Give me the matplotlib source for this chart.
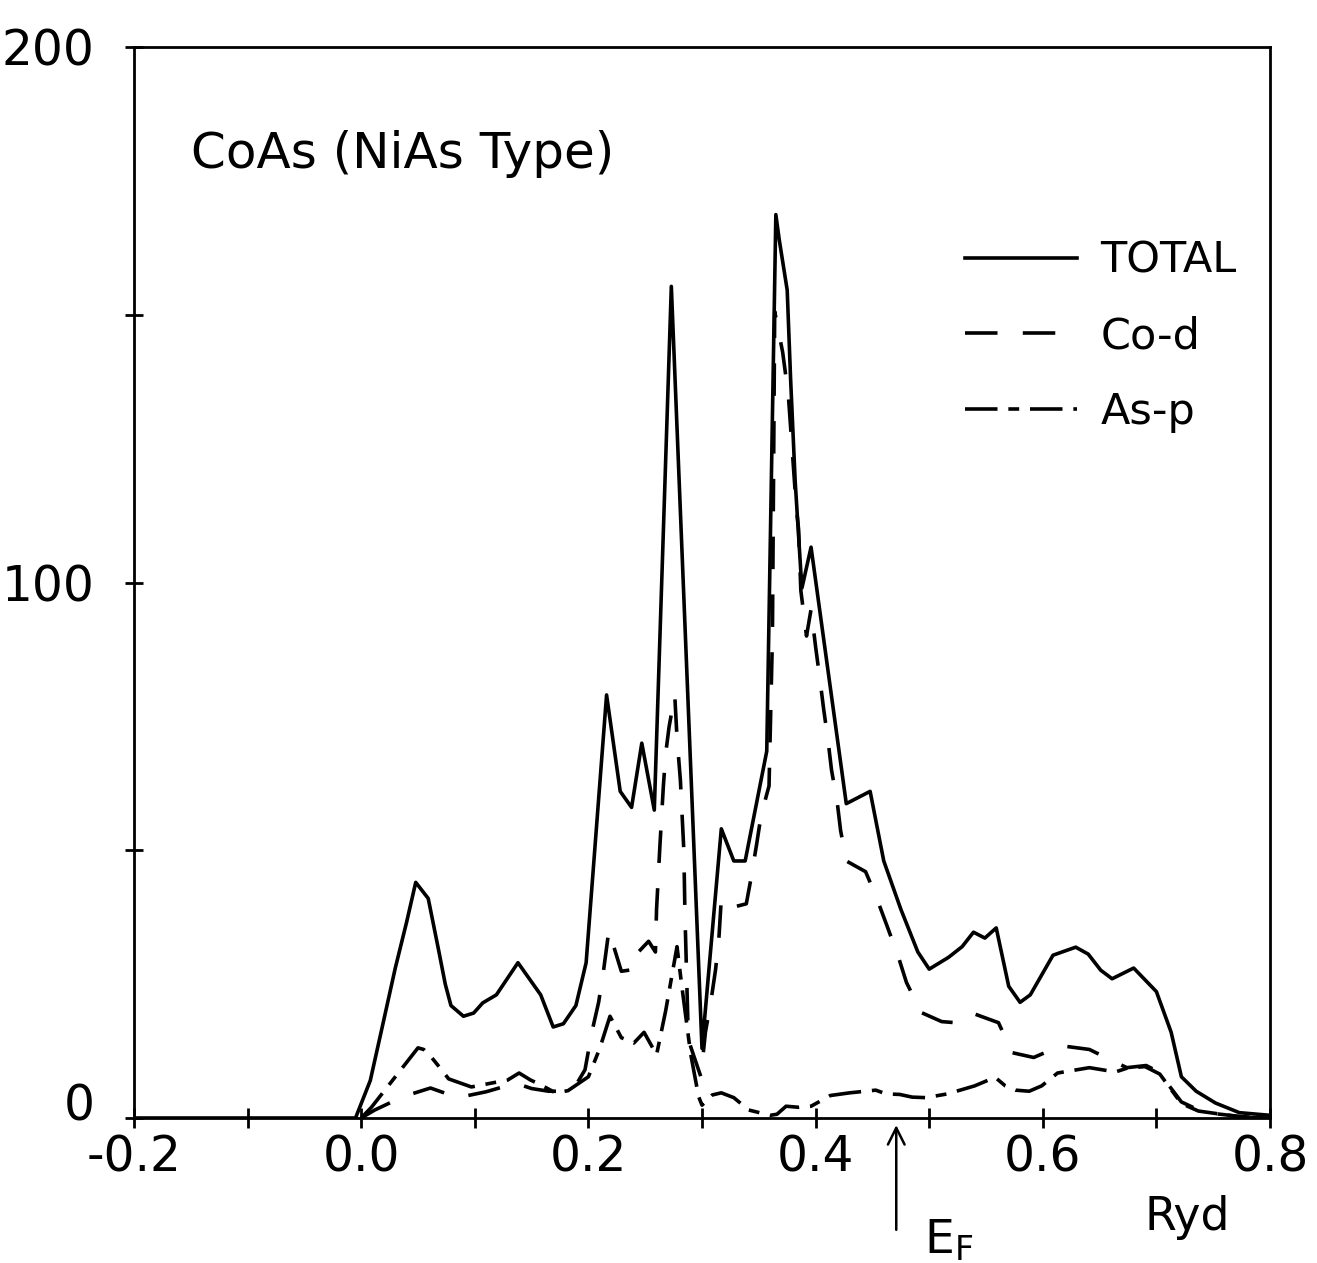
import matplotlib
matplotlib.use('Agg')
import matplotlib.pyplot as plt
import matplotlib.transforms as mtransforms
import numpy as np

# energy (Ryd) / DOS values
total_e = [-0.2, -0.005, 0.008, 0.018, 0.030, 0.040, 0.048, 0.059, 0.068, 0.074, 0.079,
           0.090, 0.099, 0.107, 0.119, 0.138, 0.158, 0.169, 0.178, 0.189, 0.198,
           0.216, 0.228, 0.238, 0.247, 0.258, 0.273, 0.300, 0.317, 0.328, 0.338,
           0.357, 0.365, 0.368, 0.375, 0.378, 0.382, 0.387, 0.388, 0.396, 0.427,
           0.448, 0.460, 0.475, 0.490, 0.500, 0.517, 0.529, 0.539, 0.549, 0.559,
           0.570, 0.580, 0.589, 0.609, 0.629, 0.640, 0.651, 0.661, 0.680, 0.700,
           0.713, 0.722, 0.735, 0.752, 0.773, 0.800]
total_dos = [0, 0, 7, 16.5, 28, 36.6, 44, 41, 31.5, 25, 21,
             19, 19.6, 21.5, 23, 29, 23, 17, 17.6, 21, 29,
             79, 61, 58, 70, 57.5, 155.3, 13, 54, 48, 48,
             68.5, 168.7, 164, 154.6, 138, 119, 102, 99, 106.6, 58.7,
             61, 48, 39, 31, 27.8, 30, 32, 34.7, 33.6, 35.5,
             24.6, 21.6, 23, 30.4, 31.9, 30.6, 27.6, 26, 28, 23.6,
             16, 7.7, 5, 2.8, 1, 0.5]

cod_e = [0.0, 0.012, 0.037, 0.061, 0.085, 0.110, 0.136, 0.150, 0.165, 0.180, 0.190,
         0.197, 0.203, 0.209, 0.213, 0.218, 0.229, 0.242, 0.244, 0.253, 0.259,
         0.260, 0.263, 0.266, 0.268, 0.271, 0.276, 0.278, 0.281, 0.284, 0.285,
         0.288, 0.299, 0.303, 0.308, 0.312, 0.315, 0.317, 0.328, 0.339, 0.343,
         0.348, 0.352, 0.359, 0.362, 0.364, 0.371, 0.376, 0.383, 0.385, 0.387,
         0.392, 0.396, 0.400, 0.404, 0.407, 0.411, 0.414, 0.419, 0.422, 0.427,
         0.444, 0.453, 0.463, 0.473, 0.480, 0.493, 0.511, 0.523, 0.539, 0.561,
         0.573, 0.592, 0.616, 0.641, 0.665, 0.674, 0.691, 0.702, 0.722, 0.737,
         0.752, 0.773, 0.795]
cod_dos = [0, 1.5, 4, 5.6, 3.8, 4.9, 6.5, 5.5, 5, 5, 6.5,
           9, 16, 21.6, 27, 35, 27.4, 27.8, 31, 33, 31,
           39, 51, 62, 68, 73, 79, 71, 63, 50, 38,
           14.6, 7.7, 16, 22, 27.8, 34, 41, 39.4, 40, 44.6,
           51, 56.5, 62, 90, 150.6, 143, 135, 114, 110, 98.5,
           90, 95, 88, 81.6, 76.5, 70.4, 65, 59, 53.7, 48,
           46, 41.5, 35.8, 30, 25.3, 19.7, 18, 17.8, 19.5, 17.8,
           12.2, 11.3, 13.5, 12.8, 10.3, 9.4, 9.8, 8.6, 3, 1.5,
           0.8, 0.3, 0]

asp_e = [0.0, 0.009, 0.050, 0.055, 0.062, 0.070, 0.077, 0.097, 0.129, 0.139, 0.149,
         0.158, 0.171, 0.182, 0.200, 0.210, 0.219, 0.229, 0.240, 0.249, 0.260,
         0.268, 0.278, 0.282, 0.290, 0.297, 0.300, 0.309, 0.317, 0.328, 0.341,
         0.360, 0.366, 0.374, 0.385, 0.396, 0.413, 0.430, 0.453, 0.462, 0.474,
         0.485, 0.497, 0.516, 0.540, 0.558, 0.567, 0.576, 0.588, 0.599, 0.613,
         0.641, 0.664, 0.674, 0.690, 0.703, 0.722, 0.737, 0.777, 0.800]
asp_dos = [0, 2, 13.1, 12.8, 11.3, 9.2, 7.3, 5.8, 7.1, 8.4, 7.1,
           6.2, 4.7, 5.1, 7.7, 13, 19, 15, 14, 16, 11.8,
           20, 32, 25, 12, 4, 2.4, 4.3, 4.7, 3.8, 1.5,
           0.5, 0.7, 2.2, 2.0, 2.2, 4.2, 4.7, 5.2, 4.5, 4.4,
           3.9, 3.8, 4.5, 6, 7.6, 6, 5.2, 5, 6, 8.4,
           9.4, 8.6, 9.3, 9.6, 8.2, 2.7, 1.3, 0.1, 0]

E_F = 0.471
x_ticks = [-0.2, 0.0, 0.2, 0.4, 0.6, 0.8]
x_labels = ['-0.2', '0.0', '0.2', '0.4', '0.6', '0.8']
y_ticks = [0, 50, 100, 150, 200]
y_labels = ['0', '', '100', '', '200']

plt.rcParams['font.family'] = ['DejaVu Sans']

fig = plt.figure(figsize=(13.17, 12.63), dpi=100)
ax = fig.add_axes([134 / 1317, 1 - 1118 / 1263, (1270 - 134) / 1317, (1118 - 47) / 1263])

lw = 2.6
ax.plot(total_e, total_dos, color='black', lw=lw, label='TOTAL')
ax.plot(cod_e, cod_dos, color='black', lw=lw, dashes=(9, 7), label='Co-d')
ax.plot(asp_e, asp_dos, color='black', lw=lw, dashes=(9, 3, 3, 3), label='As-p')

ax.set_xlim(-0.2, 0.8)
ax.set_ylim(0, 200)
ax.set_xticks(x_ticks)
ax.set_xticklabels(x_labels)
ax.set_xticks(np.arange(-0.1, 0.8, 0.2), minor=True)
ax.set_yticks(y_ticks)
ax.set_yticklabels(y_labels)
ax.tick_params(axis='both', which='both', direction='inout', width=2, colors='black',
               labelsize=35)
ax.tick_params(axis='x', which='both', length=14, pad=4)
ax.tick_params(axis='y', which='both', length=13, pad=22)
for s in ax.spines.values():
    s.set_linewidth(2)

# the "0" label sits a little above its tick in the original
lab0 = ax.get_yticklabels()[0]
lab0.set_transform(lab0.get_transform() + mtransforms.ScaledTranslation(0, 12 / 72, fig.dpi_scale_trans))

ax.text(0.05, 0.90, 'CoAs (NiAs Type)', transform=ax.transAxes, fontsize=36,
        ha='left', va='center')

ax.legend(loc='upper right', bbox_to_anchor=(0.986, 0.836), frameon=False,
          fontsize=31, handlelength=2.6, handletextpad=0.55,
          labelspacing=0.78, borderaxespad=0)

ax.text(0.927, -0.093, 'Ryd', transform=ax.transAxes, fontsize=33,
        ha='center', va='center')

ax.annotate('', xy=(E_F, -0.004), xytext=(E_F, -0.107),
            xycoords=('data', 'axes fraction'), textcoords=('data', 'axes fraction'),
            arrowprops=dict(arrowstyle='->', lw=1.8, color='black', mutation_scale=30))
ax.annotate(r'E$_\mathregular{F}$', xy=(E_F, -0.115), xycoords=('data', 'axes fraction'),
            xytext=(20, 0), textcoords='offset points', fontsize=34,
            ha='left', va='center', annotation_clip=False)

fig.savefig('out.png', dpi=100)
